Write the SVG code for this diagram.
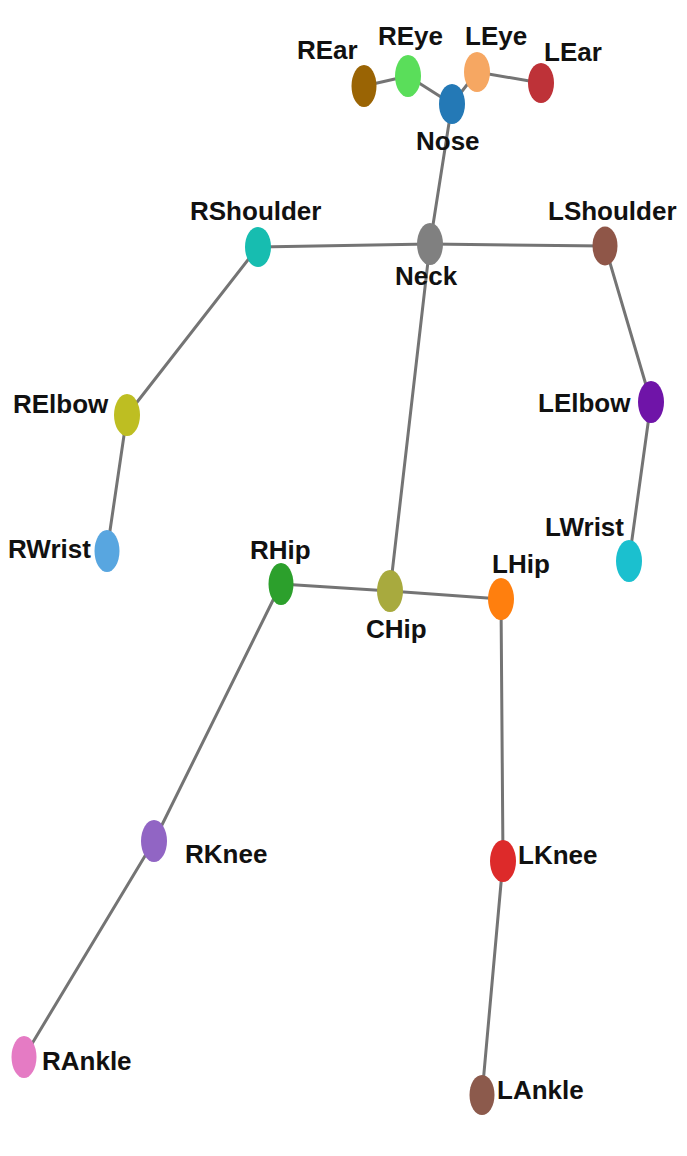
<svg xmlns="http://www.w3.org/2000/svg" width="687" height="1156" viewBox="0 0 687 1156">
<style>
.e{stroke:#747474;stroke-width:3;stroke-linecap:round;fill:none}
.t{font-family:"Liberation Sans",Arial,sans-serif;font-weight:bold;font-size:26px;fill:#111}
</style>
<rect width="687" height="1156" fill="#ffffff"/>
<g id="edges">
<line class="e" x1="364" y1="86" x2="408" y2="76"/>
<line class="e" x1="408" y1="76" x2="452" y2="104"/>
<line class="e" x1="452" y1="104" x2="477" y2="72"/>
<line class="e" x1="477" y1="72" x2="541" y2="83"/>
<line class="e" x1="452" y1="104" x2="430" y2="244"/>
<line class="e" x1="258" y1="247" x2="430" y2="244"/>
<line class="e" x1="430" y1="244" x2="605" y2="246"/>
<line class="e" x1="258" y1="247" x2="127" y2="415"/>
<line class="e" x1="127" y1="415" x2="107" y2="551"/>
<line class="e" x1="605" y1="246" x2="651" y2="402"/>
<line class="e" x1="651" y1="402" x2="629" y2="561"/>
<line class="e" x1="430" y1="244" x2="390" y2="591"/>
<line class="e" x1="390" y1="591" x2="281" y2="584"/>
<line class="e" x1="390" y1="591" x2="501" y2="599"/>
<line class="e" x1="281" y1="584" x2="154" y2="841"/>
<line class="e" x1="154" y1="841" x2="24" y2="1057"/>
<line class="e" x1="501" y1="599" x2="503" y2="861"/>
<line class="e" x1="503" y1="861" x2="482" y2="1095"/>
</g>
<g id="REar"><ellipse cx="364" cy="86" rx="12.5" ry="21" fill="#9a6404"/><text class="t" x="297" y="59">REar</text></g>
<g id="REye"><ellipse cx="408" cy="76" rx="13" ry="21" fill="#5ade5a"/><text class="t" x="378" y="45">REye</text></g>
<g id="Nose"><ellipse cx="452" cy="104" rx="13" ry="20" fill="#2479b6"/><text class="t" x="416" y="150">Nose</text></g>
<g id="LEye"><ellipse cx="477" cy="72" rx="13" ry="20" fill="#f6a762"/><text class="t" x="465" y="45">LEye</text></g>
<g id="LEar"><ellipse cx="541" cy="83" rx="13" ry="20" fill="#be3238"/><text class="t" x="544" y="61">LEar</text></g>
<g id="RShoulder"><ellipse cx="258" cy="247" rx="13" ry="20" fill="#17bdb0"/><text class="t" x="190" y="220">RShoulder</text></g>
<g id="Neck"><ellipse cx="430" cy="244" rx="13" ry="21" fill="#808080"/><text class="t" x="395" y="285">Neck</text></g>
<g id="LShoulder"><ellipse cx="605" cy="246" rx="12.5" ry="19.5" fill="#8f5648"/><text class="t" x="548" y="220">LShoulder</text></g>
<g id="RElbow"><ellipse cx="127" cy="415" rx="13" ry="21" fill="#bebe22"/><text class="t" x="13" y="413">RElbow</text></g>
<g id="RWrist"><ellipse cx="107" cy="551" rx="12.5" ry="21" fill="#58a6e0"/><text class="t" x="8" y="558">RWrist</text></g>
<g id="LElbow"><ellipse cx="651" cy="402" rx="13" ry="21" fill="#6f14a8"/><text class="t" x="538" y="412">LElbow</text></g>
<g id="LWrist"><ellipse cx="629" cy="561" rx="13" ry="21" fill="#1bc0cf"/><text class="t" x="545" y="536">LWrist</text></g>
<g id="RHip"><ellipse cx="281" cy="584" rx="12.5" ry="21" fill="#2ca02c"/><text class="t" x="250" y="559">RHip</text></g>
<g id="CHip"><ellipse cx="390" cy="591" rx="13" ry="21" fill="#a8aa3e"/><text class="t" x="366" y="638">CHip</text></g>
<g id="LHip"><ellipse cx="501" cy="599" rx="13" ry="21" fill="#ff7f0e"/><text class="t" x="492" y="573">LHip</text></g>
<g id="RKnee"><ellipse cx="154" cy="841" rx="13" ry="21" fill="#9165c4"/><text class="t" x="185" y="863">RKnee</text></g>
<g id="RAnkle"><ellipse cx="24" cy="1057" rx="12.5" ry="21" fill="#e57bc4"/><text class="t" x="42" y="1070">RAnkle</text></g>
<g id="LKnee"><ellipse cx="503" cy="861" rx="13" ry="21" fill="#dd2a2a"/><text class="t" x="518" y="864">LKnee</text></g>
<g id="LAnkle"><ellipse cx="482" cy="1095" rx="12.5" ry="20" fill="#8c5a4c"/><text class="t" x="497" y="1099">LAnkle</text></g>
</svg>
